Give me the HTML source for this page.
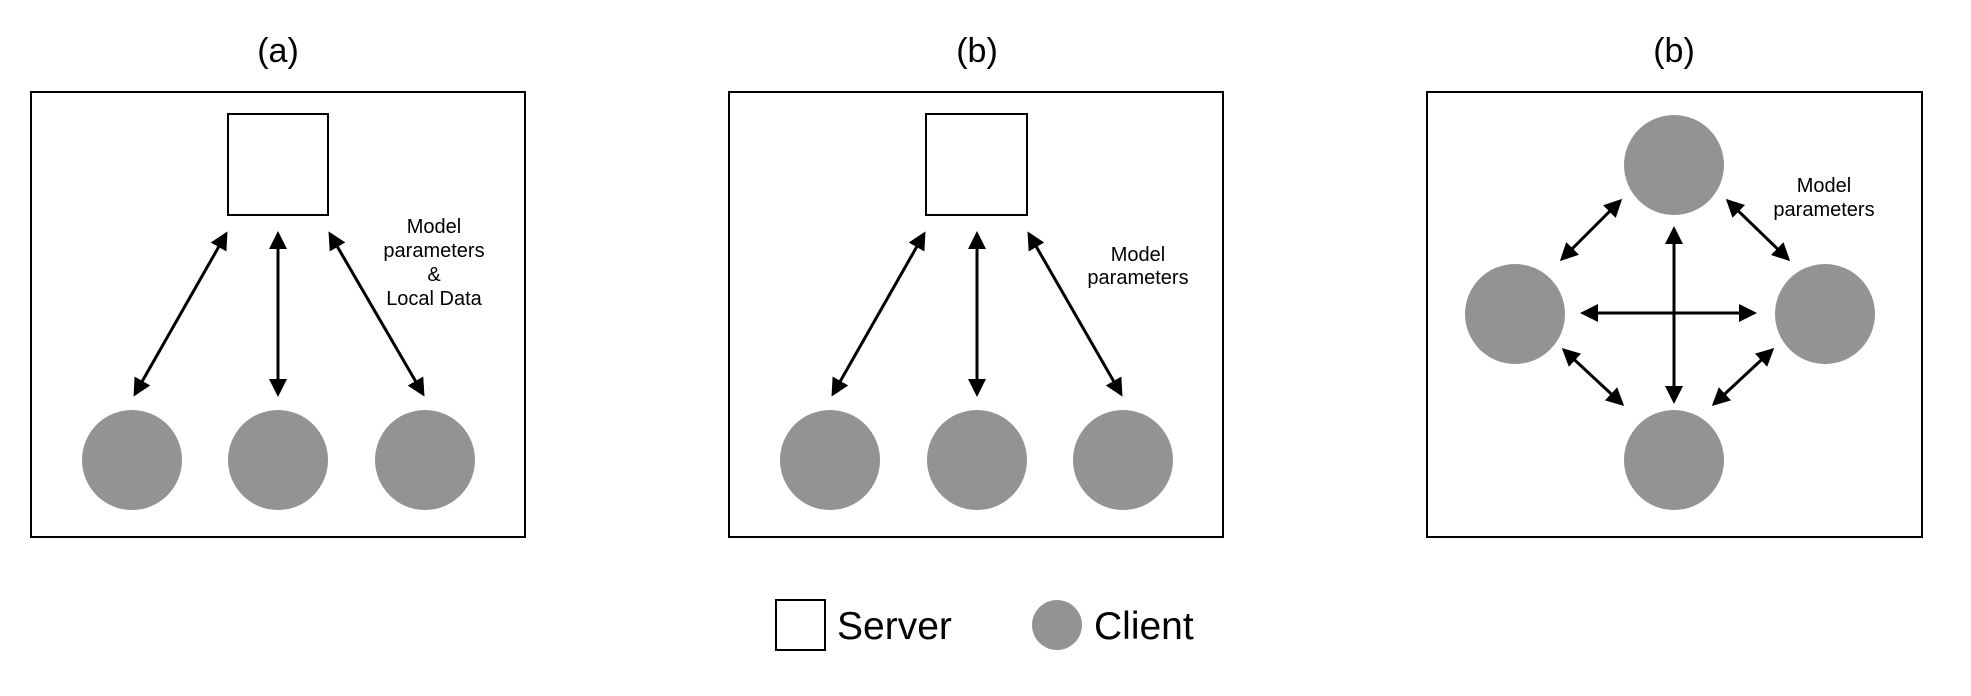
<!DOCTYPE html>
<html><head><style>
html,body{margin:0;padding:0;background:#fff;}
svg{display:block;}
text{font-family:"Liberation Sans",Arial,sans-serif;fill:#000;}
</style></head><body>
<svg width="1971" height="696" viewBox="0 0 1971 696" xmlns="http://www.w3.org/2000/svg">
<defs>
<marker id="ah" markerWidth="6" markerHeight="6" refX="5" refY="3" orient="auto-start-reverse" markerUnits="strokeWidth">
<path d="M0,0 L6,3 L0,6 Z" fill="#000"/>
</marker>
</defs>
<g font-size="34" text-anchor="middle">
<text x="278" y="62">(a)</text>
<text x="977" y="62">(b)</text>
<text x="1674" y="62">(b)</text>
</g>
<g fill="none" stroke="#000" stroke-width="2">
<rect x="31" y="92" width="494" height="445"/>
<rect x="729" y="92" width="494" height="445"/>
<rect x="1427" y="92" width="495" height="445"/>
<rect x="228" y="114" width="100" height="101"/>
<rect x="926" y="114" width="101" height="101"/>
</g>
<g fill="#939393">
<circle cx="132" cy="460" r="50"/>
<circle cx="278" cy="460" r="50"/>
<circle cx="425" cy="460" r="50"/>
<circle cx="830" cy="460" r="50"/>
<circle cx="977" cy="460" r="50"/>
<circle cx="1123" cy="460" r="50"/>
<circle cx="1674" cy="165" r="50"/>
<circle cx="1515" cy="314" r="50"/>
<circle cx="1825" cy="314" r="50"/>
<circle cx="1674" cy="460" r="50"/>
</g>
<g stroke="#000" stroke-width="3" marker-start="url(#ah)" marker-end="url(#ah)">
<line x1="226" y1="234" x2="135" y2="394"/>
<line x1="278" y1="234" x2="278" y2="394"/>
<line x1="330" y1="234" x2="423" y2="394"/>
<line x1="924" y1="234" x2="833" y2="394"/>
<line x1="977" y1="234" x2="977" y2="394"/>
<line x1="1029" y1="234" x2="1121" y2="394"/>
<line x1="1674" y1="229" x2="1674" y2="401"/>
<line x1="1583" y1="313" x2="1754" y2="313"/>
<line x1="1620" y1="201" x2="1562" y2="259"/>
<line x1="1728" y1="201" x2="1788" y2="259"/>
<line x1="1564" y1="350" x2="1622" y2="404"/>
<line x1="1772" y1="350" x2="1714" y2="404"/>
</g>
<g font-size="20" text-anchor="middle">
<text x="434" y="233">Model</text>
<text x="434" y="257">parameters</text>
<text x="434" y="281">&amp;</text>
<text x="434" y="305">Local Data</text>
<text x="1138" y="261">Model</text>
<text x="1138" y="284">parameters</text>
<text x="1824" y="192">Model</text>
<text x="1824" y="216">parameters</text>
</g>
<rect x="776" y="600" width="49" height="50" fill="none" stroke="#000" stroke-width="2"/>
<text x="837" y="639" font-size="39">Server</text>
<circle cx="1057" cy="625" r="25" fill="#939393"/>
<text x="1094" y="639" font-size="39">Client</text>
</svg>
</body></html>
